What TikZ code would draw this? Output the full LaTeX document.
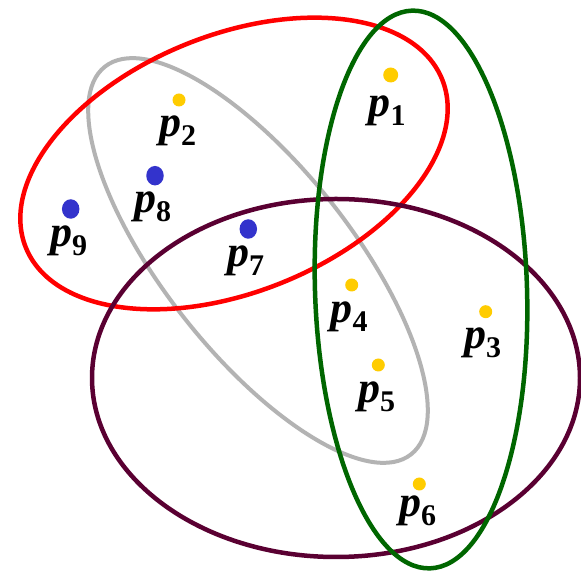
\documentclass[tikz,border=0pt]{standalone}
\usepackage{fontspec}
\setmainfont{Liberation Serif}
\newcommand{\plab}[1]{{\fontsize{44}{44}\selectfont\bfseries\itshape p}\raisebox{-9pt}{\fontsize{30}{30}\selectfont\bfseries #1}}
\definecolor{setred}{HTML}{FF0000}
\definecolor{setgreen}{HTML}{006600}
\definecolor{setpurple}{HTML}{5A0032}
\definecolor{setgrey}{HTML}{B3B3B3}
\definecolor{dotyellow}{HTML}{FFCC00}
\definecolor{dotblue}{HTML}{3333CC}
\begin{document}
\begin{tikzpicture}[x=1pt,y=1pt,
  setline/.style={line width=4.5pt},
  ydot/.style={circle,fill=dotyellow,inner sep=0pt,minimum size=13pt},
  bdot/.style={ellipse,fill=dotblue,inner sep=0pt,minimum width=17.5pt,minimum height=19.5pt},
  plabel/.style={anchor=base,inner sep=0pt,text=black}]
\usetikzlibrary{shapes.geometric}
\fill[white] (0,0) rectangle (581,575);
\useasboundingbox (0,0) rectangle (581,575);
% sets
\draw[setline,setgrey,line width=4pt] (258,314.5) ellipse [x radius=247pt, y radius=93.5pt, rotate=-51.7];
\draw[setline,setred] (234,411.5) ellipse [x radius=224.5pt, y radius=128.5pt, rotate=22];
\draw[setline,setpurple] (336,197) ellipse [x radius=244pt, y radius=179pt];
\draw[setline,setgreen] (421,285.5) ellipse [x radius=106pt, y radius=279pt, rotate=1.85];
% points
\node[ydot,minimum size=15pt] (d1) at (390.7,500) {};
\node[ydot] (d2) at (179,475) {};
\node[ydot] (d3) at (485.7,263.3) {};
\node[ydot] (d4) at (351.7,290) {};
\node[ydot] (d5) at (378.3,210) {};
\node[ydot] (d6) at (419.3,91) {};
\node[bdot] (d7) at (248.3,346) {};
\node[bdot] (d8) at (155,399.3) {};
\node[bdot] (d9) at (70.7,366) {};
% labels
\node[plabel] (l1) at (387,458) {\plab{1}};
\node[plabel] (l2) at (177.5,438) {\plab{2}};
\node[plabel] (l3) at (482.5,226) {\plab{3}};
\node[plabel] (l4) at (349,252) {\plab{4}};
\node[plabel] (l5) at (376.5,172) {\plab{5}};
\node[plabel] (l6) at (417.5,58) {\plab{6}};
\node[plabel] (l7) at (245.5,308) {\plab{7}};
\node[plabel] (l8) at (152.5,362) {\plab{8}};
\node[plabel] (l9) at (68.5,328) {\plab{9}};
\end{tikzpicture}
\end{document}
